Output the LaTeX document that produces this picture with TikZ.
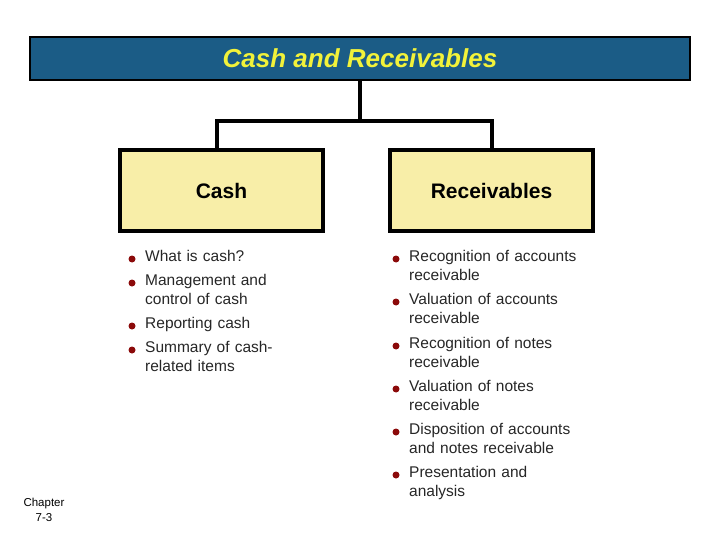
\documentclass[tikz,border=0pt]{standalone}
\usepackage{fontspec}
\setmainfont{Liberation Sans}
\usetikzlibrary{positioning}
\definecolor{titleblue}{HTML}{1B5C86}
\definecolor{boxyellow}{HTML}{F8EEA8}
\definecolor{bulletred}{HTML}{8B0A0A}
\definecolor{titleyellow}{HTML}{F2F23A}
\tikzset{
  headbox/.style={rectangle, draw=black, line width=4pt, fill=boxyellow,
    minimum width=203pt, minimum height=81pt, font=\fontsize{21}{24}\selectfont\bfseries},
  item/.style={anchor=north west, text width=220pt, align=left, inner sep=0pt,
    font=\fontsize{15.5}{19.5}\selectfont, text=black!85},
  dot/.style={circle, fill=bulletred, inner sep=0pt, minimum size=7pt}
}
\begin{document}
\begin{tikzpicture}[x=1pt,y=-1pt]
\useasboundingbox (0,0) rectangle (720,540);
\node[rectangle, fill=titleblue, draw=black, line width=2.5pt, minimum width=660pt,
    minimum height=43pt] (title) at (360,58.5) {};
\node[text=titleyellow, font=\fontsize{26}{28}\selectfont\bfseries\itshape] at (title) {Cash and Receivables};

\node[headbox] (cash) at (221.5,190.5) {Cash};
\node[headbox] (recv) at (491.5,190.5) {Receivables};

\coordinate (mid) at (360,121);
\draw[line width=4pt] (title.south) -- (mid);
\draw[line width=4pt] (cash.north -| 217,0) |- (mid) -| (recv.north -| 492,0);

% cash items
\foreach \y/\t [count=\i] in {250/What is cash?, 274/Management and\\control of cash,
    317/Reporting cash, 341/Summary of cash-\\related items}{
  \node[dot] (cd\i) at (132,\y+9) {};
  \node[item] (ci\i) at (145,\y) {\t};
}
% receivables items
\foreach \y/\t [count=\i] in {250/Recognition of accounts\\receivable, 293/Valuation of accounts\\receivable,
    337/Recognition of notes\\receivable, 380/Valuation of notes\\receivable,
    423/Disposition of accounts\\and notes receivable, 466/Presentation and\\analysis}{
  \node[dot] (rd\i) at (396,\y+9) {};
  \node[item] (ri\i) at (409,\y) {\t};
}

\node[align=center, font=\fontsize{11.5}{15}\selectfont] (chap) at (44,510) {Chapter\\7-3};
\end{tikzpicture}
\end{document}
